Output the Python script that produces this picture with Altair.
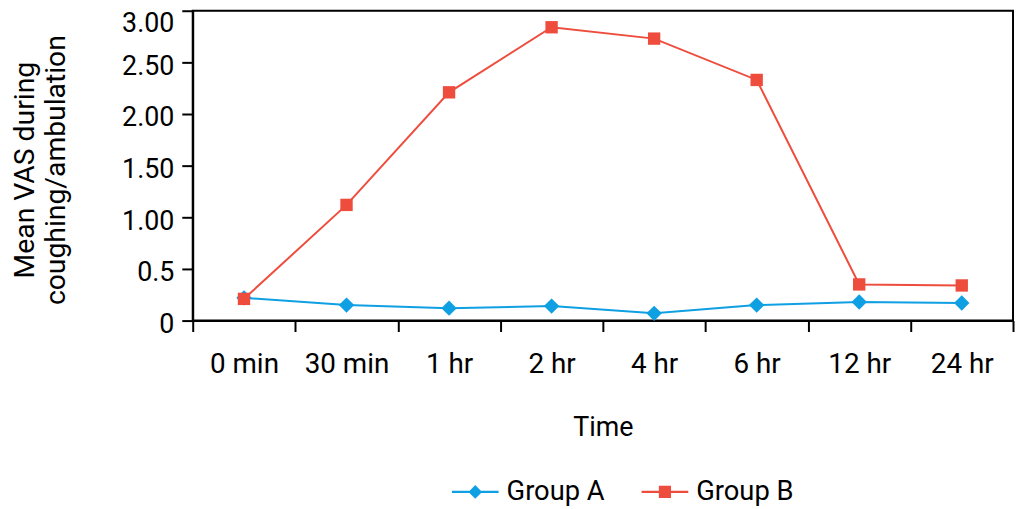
import altair as alt
import pandas as pd

times = ["0 min", "30 min", "1 hr", "2 hr", "4 hr", "6 hr", "12 hr", "24 hr"]
group_a = [0.22, 0.15, 0.12, 0.14, 0.07, 0.15, 0.18, 0.17]
group_b = [0.21, 1.12, 2.21, 2.84, 2.73, 2.33, 0.35, 0.34]
groups = ["Group A", "Group B"]
colors = ["#0f9fe3", "#ee4d3d"]
shapes = ["diamond", "square"]
point_sizes = [240, 155]
y_ticks = [0, 0.5, 1, 1.5, 2, 2.5, 3]
y_title = ["Mean VAS during", "coughing/ambulation"]

rows = []
for g, vals in zip(groups, [group_a, group_b]):
    for t, v in zip(times, vals):
        rows.append({"Time": t, "Group": g, "VAS": v})
df = pd.DataFrame(rows)

FONT = "Roboto"

# legend glyphs: a short line with the marker in the middle (unit square coords)
path_a = "M-1,-0.045H1V0.045H-1Z M0,-0.29L0.29,0L0,0.29L-0.29,0Z"
path_b = "M-1,-0.045H1V0.045H-1Z M-0.26,-0.26H0.26V0.26H-0.26Z"

legend = alt.Legend(
    title=None,
    orient="none",
    direction="horizontal",
    legendX=261,
    legendY=461,
    padding=0,
    symbolSize=2209,
    symbolStrokeWidth=0,
    symbolOpacity=1,
    labelFont=FONT,
    labelFontSize=27.5,
    labelColor="black",
    labelOffset=8,
    columnPadding=37,
)

color_scale = alt.Scale(domain=groups, range=colors)
color = alt.Color("Group:N", scale=color_scale, legend=legend)

xaxis = alt.Axis(
    title="Time",
    tickBand="extent",
    labelAngle=0,
    tickSize=11,
    tickWidth=2,
    tickColor="black",
    domainColor="black",
    domainWidth=2,
    grid=False,
    labelFont=FONT,
    labelFontSize=28,
    labelColor="black",
    labelBaseline="alphabetic",
    labelPadding=41,
    titleFont=FONT,
    titleFontSize=27,
    titleFontWeight="normal",
    titleColor="black",
    titleBaseline="alphabetic",
    titleAlign="center",
    titleX=413,
    titleY=116,
)

yaxis = alt.Axis(
    title=y_title,
    values=y_ticks,
    labelExpr="datum.value == 0 ? '0' : datum.value == 0.5 ? '0.5' : format(datum.value, '.2f')",
    tickSize=11,
    tickWidth=2,
    tickColor="black",
    domainColor="black",
    domainWidth=2,
    grid=False,
    labelFont=FONT,
    labelFontSize=27,
    labelColor="black",
    labelBaseline="alphabetic",
    labelPadding=8,
    labelOffset={"condition": {"test": "datum.value == 3", "value": 21}, "value": 12},
    titleFont=FONT,
    titleFontSize=28.5,
    titleFontWeight="normal",
    titleColor="black",
    titleAngle=270,
    titleBaseline="alphabetic",
    titleAlign="center",
    titleLineHeight=31,
    titleX=-160,
    titleY=160,
)

x = alt.X("Time:N", sort=times, scale=alt.Scale(type="band", paddingInner=0, paddingOuter=0), axis=xaxis)
y = alt.Y("VAS:Q", scale=alt.Scale(domain=[0, 3], nice=False, zero=True), axis=yaxis)

base = alt.Chart(df)

# legend-only layer (draws no rows, provides the legend glyphs)
legend_layer = (
    base.transform_filter(alt.datum.VAS < -1)
    .mark_point(filled=True, opacity=1)
    .encode(
        x=x,
        y=y,
        color=color,
        shape=alt.Shape("Group:N", scale=alt.Scale(domain=groups, range=[path_a, path_b]), legend=legend),
    )
)

lines = base.mark_line(strokeWidth=2).encode(x=x, y=y, color=color)

point_layers = []
for g, shp, sz in zip(groups, shapes, point_sizes):
    point_layers.append(
        base.transform_filter(alt.datum.Group == g)
        .mark_point(shape=shp, size=sz, filled=True, opacity=1)
        .encode(x=x, y=y, color=color)
    )

chart = (
    alt.layer(legend_layer, lines, *point_layers)
    .properties(
        width=826,
        height=312,
        autosize=alt.AutoSizeParams(type="none"),
        padding={"left": 186, "top": 1, "right": 2, "bottom": 190},
        background="white",
    )
    .configure_view(stroke="black", strokeWidth=2)
)

chart.save("out.html", embed_options={"renderer": "svg", "actions": False})
